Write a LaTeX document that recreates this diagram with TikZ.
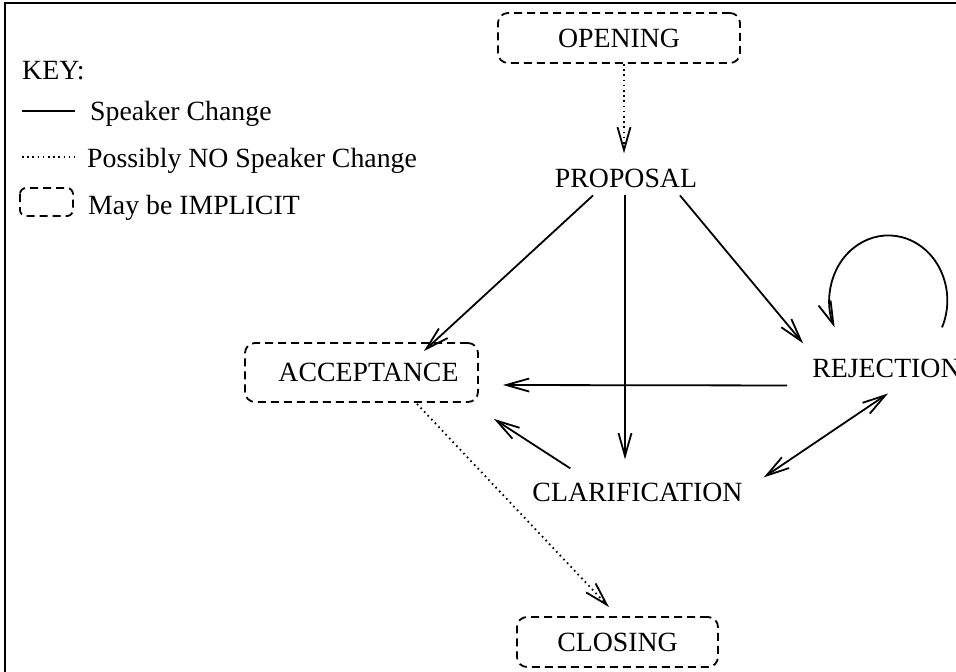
\documentclass[tikz,border=0pt]{standalone}
\usepackage{fontspec}
\setmainfont{Liberation Serif}
\usetikzlibrary{arrows.meta,calc}
\begin{document}
\begin{tikzpicture}[x=1pt,y=1pt,
  txt/.style={inner sep=0pt, font=\fontsize{27.8}{33}\selectfont},
  dashline/.style={line width=1.8pt, dash pattern=on 8pt off 5pt},
  dotline/.style={line width=1.8pt, dash pattern=on 1.6pt off 3.6pt},
  ibox/.style={draw, dashline, rounded corners=10pt, inner sep=0pt, font=\fontsize{27.8}{33}\selectfont},
  tip/.style={-{Straight Barb[length=23pt,width=13pt]}},
  sc/.style={line width=1.8pt, tip},
  nsc/.style={dotline, tip},
]
\useasboundingbox (0,0) rectangle (956,-672);
% frame
\coordinate (fbl) at (5,-672);
\coordinate (ftl) at (5,-3);
\coordinate (ftr) at (956,-3);
\draw[line width=1.8pt] (fbl) -- (ftl) -- (ftr);

% key
\node[txt, anchor=base west] (key) at (22,-79) {KEY:};
\coordinate (k1a) at (22,-111); \coordinate (k1b) at (75,-111);
\draw[line width=1.8pt] (k1a) -- (k1b);
\node[txt, anchor=base west] (k1) at (90,-120) {Speaker Change};
\coordinate (k2a) at (22,-157); \coordinate (k2b) at (75,-157);
\draw[dotline] (k2a) -- (k2b);
\node[txt, anchor=base west] (k2) at (87,-167) {Possibly NO Speaker Change};
\draw[dashline, rounded corners=6pt] (20,-188) rectangle (73,-216);
\node[txt, anchor=base west] (k3) at (88,-214) {May be IMPLICIT};

% main nodes
\node[ibox, minimum width=242pt, minimum height=50pt] (open) at (619,-38) {OPENING};
\node[txt, anchor=base] (prop) at (626,-187) {PROPOSAL};
\node[ibox, minimum width=233pt, minimum height=59pt] (acc) at (361.5,-372.5) {\hspace*{14pt}ACCEPTANCE};
\node[txt, anchor=base] (rej) at (886.5,-377) {REJECTION};
\node[txt, anchor=base] (clar) at (637.5,-501) {CLARIFICATION};
\node[ibox, minimum width=201pt, minimum height=50pt] (clos) at (617.5,-642) {CLOSING};

% connectors
\draw[nsc] ([xshift=5pt]open.south) -- ([shift={(-2pt,15pt)}]prop.north);
\draw[sc] ([shift={(-33pt,-8pt)}]prop.south) -- ([shift={(-55pt,-9pt)}]acc.north east);
\draw[sc] ([shift={(-1pt,-8pt)}]prop.south) -- ([shift={(-12.5pt,23pt)}]clar.north);
\draw[sc] ([shift={(54pt,-8pt)}]prop.south) -- ([shift={(-9pt,15pt)}]rej.north west);
\draw[sc] ([shift={(-25pt,-8pt)}]rej.south west) -- ([shift={(24pt,-12.5pt)}]acc.east);
\draw[sc] ([shift={(38pt,14pt)}]clar.north west) -- ([shift={(15pt,-16pt)}]acc.south east);
\draw[sc, {Straight Barb[length=23pt,width=13pt]}-{Straight Barb[length=23pt,width=13pt]}] ([shift={(21pt,5pt)}]clar.north east) -- ([shift={(1.5pt,-16pt)}]rej.south);
\draw[sc] ([shift={(55.5pt,31pt)}]rej.north) arc[start angle=-24.5, end angle=204.5, x radius=59pt, y radius=65pt];
\draw[nsc] ([shift={(55.5pt,-1pt)}]acc.south) -- ([shift={(-8.5pt,9pt)}]clos.north);
\end{tikzpicture}
\end{document}
